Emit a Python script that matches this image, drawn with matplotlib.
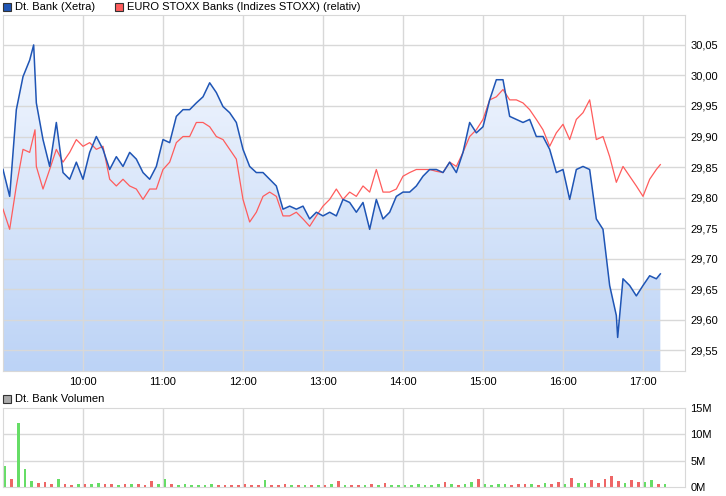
import numpy as np
import matplotlib
matplotlib.use("Agg")
import matplotlib.pyplot as plt
from matplotlib.patches import Rectangle
from matplotlib.colors import LinearSegmentedColormap

plt.rcParams['font.family'] = ['Liberation Sans', 'DejaVu Sans']

# time in minutes since 9:00
t_db = [0,5,10,15,20,23,25,30,35,40,45,50,55] + list(range(60, 465, 5)) + [461,465,470,475,480,485,490,493]
dt_bank = [29.846,29.802,29.944,29.998,30.025,30.050,29.955,29.895,29.851,29.923,29.841,29.830,29.858,
           29.830,29.874,29.900,29.879,29.846,29.867,29.851,29.874,29.863,29.841,29.830,29.851,
           29.895,29.890,29.933,29.944,29.944,29.955,29.965,29.988,29.972,29.949,29.939,29.923,
           29.879,29.851,29.841,29.841,29.830,29.819,29.781,29.786,29.781,29.786,29.765,29.776,
           29.770,29.776,29.770,29.797,29.792,29.776,29.792,29.748,29.797,29.765,29.776,29.802,
           29.809,29.809,29.819,29.835,29.846,29.846,29.841,29.858,29.841,29.874,29.923,29.906,
           29.916,29.960,29.993,29.993,29.933,29.928,29.923,29.928,29.900,29.900,29.879,29.841,
           29.846,29.797,29.846,29.851,29.846,29.765,29.748,29.656,29.607,29.571,29.667,29.656,
           29.639,29.656,29.672,29.667,29.675]
t_db = t_db[:len(dt_bank)]

t_sx = [0,5,10,15,20,24,25,30,35,40,45,50,55] + list(range(60, 495, 5)) + [493]
stoxx = [29.781,29.748,29.819,29.879,29.874,29.911,29.851,29.814,29.846,29.879,29.858,29.874,29.895,
         29.884,29.890,29.879,29.884,29.830,29.819,29.830,29.819,29.814,29.797,29.814,29.814,
         29.846,29.858,29.890,29.900,29.900,29.923,29.923,29.916,29.900,29.895,29.879,29.863,
         29.797,29.760,29.776,29.802,29.809,29.802,29.770,29.770,29.776,29.765,29.753,29.770,
         29.786,29.797,29.814,29.797,29.809,29.802,29.819,29.809,29.846,29.809,29.809,29.814,
         29.835,29.841,29.846,29.846,29.846,29.843,29.841,29.858,29.851,29.874,29.900,29.911,
         29.928,29.960,29.965,29.977,29.960,29.960,29.955,29.944,29.928,29.911,29.884,29.906,
         29.920,29.895,29.928,29.939,29.960,29.895,29.900,29.867,29.825,29.851,29.835,29.819,
         29.802,29.830,29.846,29.854]
t_sx = t_sx[:len(stoxx)]

# volume (millions), 5-minute bars from 9:00
volume = [4.0,1.5,12.2,3.4,1.2,0.8,1.0,0.6,1.6,0.5,0.4,0.5,0.6,0.5,0.7,0.6,0.5,0.4,0.5,0.6,
          0.5,0.4,1.2,0.6,1.6,0.5,0.4,0.5,0.3,0.4,0.3,0.5,0.4,0.3,0.4,0.3,0.6,0.4,0.3,1.3,
          0.4,0.3,0.5,0.4,0.4,0.3,0.3,0.4,0.3,0.5,1.2,0.4,0.3,0.4,0.3,0.5,0.4,0.7,0.4,0.3,
          0.4,0.3,0.5,0.4,0.3,0.6,1.0,0.5,0.4,0.6,1.0,1.6,0.5,0.4,0.6,0.5,0.4,0.5,0.6,0.5,
          0.4,0.7,0.5,1.0,0.6,1.8,0.7,0.8,1.3,0.7,1.6,2.0,1.2,0.8,1.4,0.9,1.0,1.3,0.6,0.5]
xticks = ["10:00","11:00","12:00","13:00","14:00","15:00","16:00","17:00"]
yticks = [29.55,29.60,29.65,29.70,29.75,29.80,29.85,29.90,29.95,30.00,30.05]

W, H = 726, 496
fig = plt.figure(figsize=(W/100, H/100), dpi=100)
def ax_rect(x0, y0, x1, y1):
    return [x0/W, 1-y1/H, (x1-x0)/W, (y1-y0)/H]

grid_c = '#d8d8d8'
xmin, xmax = 0, 511.5
ax = fig.add_axes(ax_rect(3, 15, 685, 371))
ylo, yhi = 29.516, 30.099
tdb = np.array(t_db); vdb = np.array(dt_bank)
grad = np.linspace(0, 1, 256).reshape(-1, 1)
cmap = LinearSegmentedColormap.from_list('g', ['#f3f7fe', '#bcd3f6'])
top = vdb.max()
im = ax.imshow(grad, extent=[xmin, xmax, ylo, top], aspect='auto', cmap=cmap, origin='upper', zorder=1)
poly = ax.fill_between(tdb, vdb, ylo, color='none')
im.set_clip_path(poly.get_paths()[0], transform=ax.transData)
ax.set_xlim(xmin, xmax); ax.set_ylim(ylo, yhi)
for yv in yticks:
    ax.axhline(yv, color=grid_c, lw=1, zorder=2)
for i in range(1, 9):
    ax.axvline(60*i, color=grid_c, lw=1, zorder=2)
ax.plot(t_sx, stoxx, color='#ff5c5c', lw=0.9, zorder=3)
ax.plot(tdb, vdb, color='#1f55b5', lw=1.1, zorder=4)
ax.set_xticks([60*i for i in range(1, 9)])
ax.set_xticklabels(xticks)
ax.set_yticks(yticks)
ax.set_yticklabels([f"{v:.2f}".replace('.', ',') for v in yticks])
ax.yaxis.tick_right()
ax.tick_params(length=0, labelsize=8, pad=4)
for s in ax.spines.values():
    s.set_color(grid_c)

def legend_item(x, y, color, label):
    fig.patches.append(Rectangle((x/W, 1-(y+4)/H), 8/W, 8/H, transform=fig.transFigure,
                                 facecolor=color, edgecolor='#333333', lw=0.8))
    fig.text((x+12)/W, 1-y/H, label, fontsize=8, va='center', ha='left')
legend_item(3, 7, '#1f55b5', 'Dt. Bank (Xetra)')
legend_item(115, 7, '#ff5c5c', 'EURO STOXX Banks (Indizes STOXX) (relativ)')
legend_item(3, 399, '#aaaaaa', 'Dt. Bank Volumen')

axv = fig.add_axes(ax_rect(3, 408, 685, 487))
axv.set_xlim(xmin, xmax); axv.set_ylim(0, 15)
tv = np.arange(len(volume)) * 5
price_at = np.interp(tv, tdb, vdb)
prev = np.concatenate([[price_at[0]], price_at[:-1]])
cols = ['#66dd66' if p >= q else '#ee6666' for p, q in zip(price_at, prev)]
for yv in [5, 10]:
    axv.axhline(yv, color=grid_c, lw=1, zorder=0)
for i in range(1, 9):
    axv.axvline(60*i, color=grid_c, lw=1, zorder=0)
axv.bar(tv + 1.5, volume, width=2.0, color=cols, zorder=2)
axv.set_xticks([])
axv.set_yticks([0, 5, 10, 15])
axv.set_yticklabels(['0M', '5M', '10M', '15M'])
axv.yaxis.tick_right()
axv.tick_params(length=0, labelsize=8, pad=4)
for s in axv.spines.values():
    s.set_color(grid_c)

fig.savefig('out.png', dpi=100)
